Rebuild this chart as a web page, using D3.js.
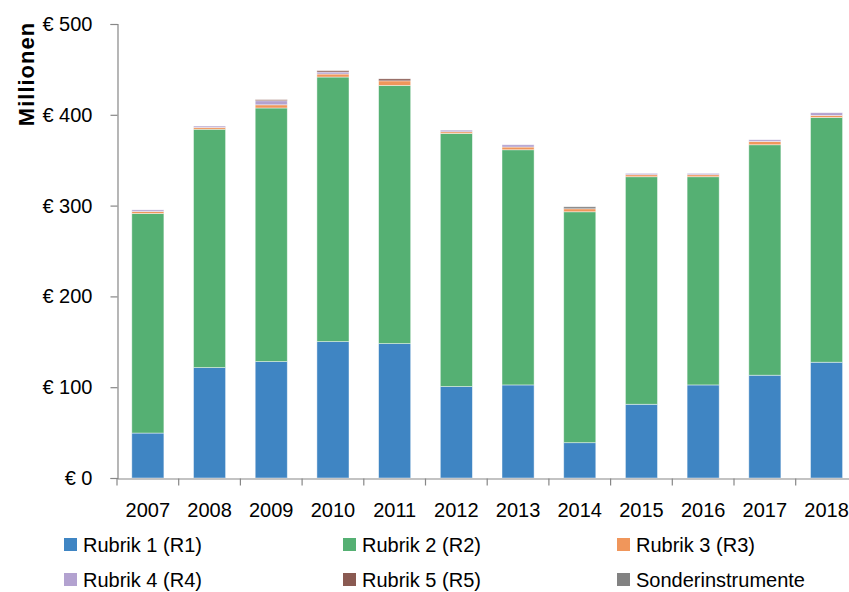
<!DOCTYPE html>
<html>
<head>
<meta charset="utf-8">
<script src="https://cdn.jsdelivr.net/npm/d3@7"></script>
<style>
  html, body { margin: 0; padding: 0; background: #fff; }
  svg { display: block; }
  text { font-family: "Liberation Sans", Arial, sans-serif; fill: #000; }
</style>
</head>
<body>
<svg id="chart" width="849" height="592"></svg>
<script>
// Jahre (Kategorien)
const years = ["2007","2008","2009","2010","2011","2012","2013","2014","2015","2016","2017","2018"];

// Mittel je Rubrik, in Millionen Euro
const rubrik1 = [49.5, 121.6, 128.2, 150.2, 148.0, 100.7, 102.5, 38.9, 81.2, 102.5, 113.2, 127.5];
const rubrik2 = [241.8, 262.5, 279.3, 291.4, 284.4, 278.8, 259.0, 254.3, 250.6, 229.3, 253.8, 269.6];
const rubrik3 = [2.2, 2.0, 3.5, 3.3, 5.0, 1.8, 3.0, 3.3, 2.2, 2.2, 3.7, 2.2];
const rubrik4 = [1.8, 1.5, 4.5, 2.2, 0.0, 1.8, 2.5, 0.0, 1.5, 1.5, 1.8, 3.0];
const rubrik5 = [0.0, 0.0, 1.2, 1.5, 2.2, 0.0, 0.0, 0.0, 0.0, 0.0, 0.0, 0.0];
const sonder  = [0.0, 0.0, 0.0, 0.0, 0.0, 0.0, 0.0, 2.2, 0.0, 0.0, 0.0, 0.0];

const seriesNames = ["Rubrik 1 (R1)", "Rubrik 2 (R2)", "Rubrik 3 (R3)", "Rubrik 4 (R4)", "Rubrik 5 (R5)", "Sonderinstrumente"];
const seriesValues = [rubrik1, rubrik2, rubrik3, rubrik4, rubrik5, sonder];
const colors = ["#3f85c3", "#55b073", "#f0965b", "#b3a2d0", "#8a5a52", "#828282"];

const yTicks = [0, 100, 200, 300, 400, 500];

// Tabelle für d3.stack
const keys = seriesNames;
const table = years.map((y, i) => {
  const row = { year: y };
  keys.forEach((k, s) => { row[k] = seriesValues[s][i]; });
  return row;
});

const svg = d3.select("#chart");
const axisColor = "#878787";

const x = d3.scaleBand()
  .domain(years)
  .range([117, 857.4])
  .paddingInner(0.48)
  .paddingOuter(0.24);

const y = d3.scaleLinear()
  .domain([0, 500])
  .range([478, 24]);

const stacked = d3.stack().keys(keys)(table);

// Balken
svg.append("g")
  .selectAll("g")
  .data(stacked)
  .join("g")
  .attr("fill", (d, i) => colors[i])
  .selectAll("rect")
  .data(d => d)
  .join("rect")
  .attr("x", d => x(d.data.year))
  .attr("y", d => y(d[1]))
  .attr("width", x.bandwidth())
  .attr("height", d => Math.max(0, y(d[0]) - y(d[1])))
  .attr("stroke", "#ffffff")
  .attr("stroke-opacity", 0.55)
  .attr("stroke-width", 0.8);

// y-Achse
const yAxis = d3.axisLeft(y)
  .tickValues(yTicks)
  .tickSize(7)
  .tickPadding(18)
  .tickFormat(d => "€ " + d);

const gy = svg.append("g")
  .attr("transform", "translate(117.5,0)")
  .call(yAxis);
gy.select(".domain").attr("stroke", axisColor).attr("stroke-width", 1.2);
gy.selectAll(".tick line").attr("stroke", axisColor).attr("stroke-width", 1.2);
gy.selectAll(".tick text")
  .attr("font-size", 20)
  .attr("font-family", "Liberation Sans, Arial, sans-serif")
  .attr("fill", "#000");

// x-Achse
const xAxis = d3.axisBottom(x).tickSize(0).tickPadding(24);
const gx = svg.append("g")
  .attr("transform", "translate(0,478.5)")
  .call(xAxis);
gx.select(".domain").attr("stroke", axisColor).attr("stroke-width", 1.2);
gx.selectAll(".tick text")
  .attr("font-size", 20)
  .attr("font-family", "Liberation Sans, Arial, sans-serif")
  .attr("fill", "#000");

// Trennstriche zwischen den Kategorien
const step = x.step();
const boundaries = years.map((yr, i) => x(years[0]) - x.paddingOuter() * step + i * step);
boundaries.push(boundaries[boundaries.length - 1] + step);
gx.selectAll("line.sep")
  .data(boundaries)
  .join("line")
  .attr("class", "sep")
  .attr("x1", d => d).attr("x2", d => d)
  .attr("y1", 0).attr("y2", 7)
  .attr("stroke", axisColor)
  .attr("stroke-width", 1.2);

// Achsentitel
svg.append("text")
  .attr("transform", "translate(26,74) rotate(-90)")
  .attr("text-anchor", "middle")
  .attr("dominant-baseline", "central")
  .attr("font-size", 22)
  .attr("font-weight", "bold")
  .attr("letter-spacing", 1)
  .text("Millionen");

// Legende
const legendCols = [64, 343, 617];
const legendRows = [545, 580];
const legend = svg.append("g")
  .selectAll("g")
  .data(seriesNames)
  .join("g")
  .attr("transform", (d, i) => `translate(${legendCols[i % 3]},${legendRows[Math.floor(i / 3)]})`);
legend.append("rect")
  .attr("x", 0).attr("y", -7)
  .attr("width", 13).attr("height", 13)
  .attr("fill", (d, i) => colors[i]);
legend.append("text")
  .attr("x", 19)
  .attr("y", 0)
  .attr("dominant-baseline", "central")
  .attr("font-size", 20)
  .text(d => d);
</script>
</body>
</html>
